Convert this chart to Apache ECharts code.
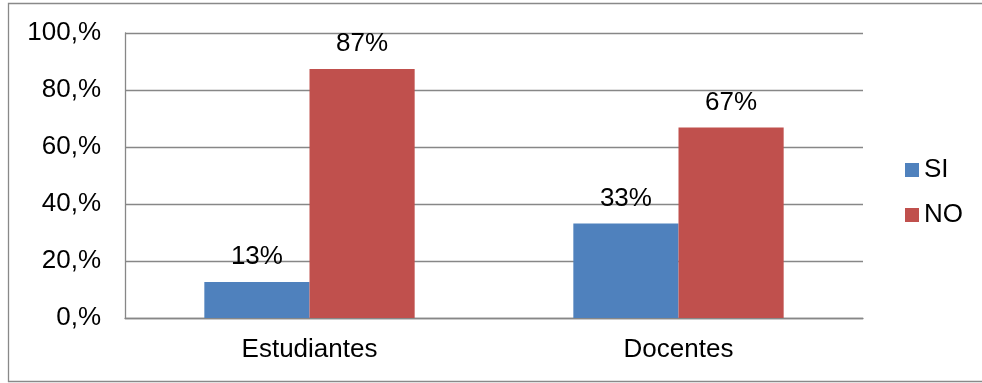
<!DOCTYPE html>
<html><head><meta charset="utf-8">
<script src="https://cdn.jsdelivr.net/npm/echarts@6/dist/echarts.min.js"></script>
<style>html,body{margin:0;padding:0;background:#fff}#c{width:982px;height:383px}</style>
</head><body><div id="c"></div>
<script>
const categories = ['Estudiantes', 'Docentes'];
const siValues = [12.6, 33.2];
const noValues = [87.4, 66.8];
const siLabels = ['13%', '33%'];
const noLabels = ['87%', '67%'];
const yTicks = [0, 20, 40, 60, 80, 100];

const chart = echarts.init(document.getElementById('c'), null, {renderer: 'canvas'});
const font = 'Liberation Sans, Arial, sans-serif';
const fs = 26;
chart.setOption({
  animation: false,
  backgroundColor: '#fff',
  graphic: [{
    type: 'rect', shape: {x: 8.5, y: 3.5, width: 990, height: 378},
    style: {fill: 'none', stroke: '#898989', lineWidth: 1.3}, silent: true
  }],
  grid: {left: 125, right: 119, top: 33, bottom: 65, containLabel: false},
  legend: {
    orient: 'vertical', left: 905, top: 157, padding: 0, itemWidth: 14, itemHeight: 14, itemGap: 19,
    icon: 'rect',
    textStyle: {fontFamily: font, fontSize: fs, lineHeight: 26, color: '#000'},
    data: ['SI', 'NO']
  },
  xAxis: {
    type: 'category', data: categories,
    axisLine: {lineStyle: {color: '#878787', width: 1.3}},
    axisTick: {show: false},
    axisLabel: {fontFamily: font, fontSize: fs, color: '#000', margin: 19}
  },
  yAxis: {
    type: 'value', min: yTicks[0], max: yTicks[yTicks.length - 1], interval: 20,
    axisLine: {show: true, lineStyle: {color: '#878787', width: 1.3}},
    axisTick: {show: false},
    splitLine: {lineStyle: {color: '#878787', width: 1.3}},
    axisLabel: {fontFamily: font, fontSize: fs, color: '#000', margin: 24,
      formatter: v => v + ',%'}
  },
  series: [
    {name: 'SI', type: 'bar', data: siValues, barGap: '0%', barCategoryGap: '43%',
      itemStyle: {color: '#4F81BD'},
      label: {show: true, position: 'top', distance: 12, fontFamily: font, fontSize: fs, color: '#000',
        formatter: p => siLabels[p.dataIndex]}},
    {name: 'NO', type: 'bar', data: noValues, barGap: '0%', barCategoryGap: '43%',
      itemStyle: {color: '#C0504D'},
      label: {show: true, position: 'top', distance: 12, fontFamily: font, fontSize: fs, color: '#000',
        formatter: p => noLabels[p.dataIndex]}}
  ]
});
</script></body></html>
